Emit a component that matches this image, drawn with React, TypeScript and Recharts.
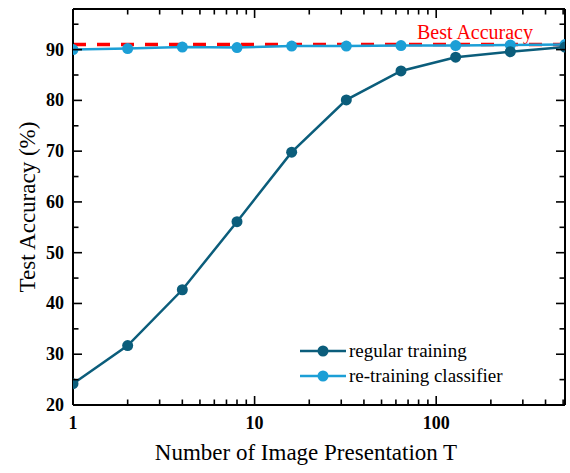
import { LineChart, Line, XAxis, YAxis, ReferenceLine } from "recharts";

const presentations = [1, 2, 4, 8, 16, 32, 64, 128, 256, 512];
const regularTraining = [24.2, 31.7, 42.7, 56.1, 69.8, 80.1, 85.8, 88.5, 89.6, 90.5];
const retrainingClassifier = [90.0, 90.2, 90.5, 90.4, 90.7, 90.7, 90.8, 90.8, 90.9, 91.0];
const bestAccuracy = 91.0;

const xMajorTicks = [1, 10, 100];
const xAllTicks = [1, 2, 3, 4, 5, 6, 7, 8, 9, 10, 20, 30, 40, 50, 60, 70, 80, 90, 100, 200, 300, 400, 500];
const yMajorTicks = [20, 30, 40, 50, 60, 70, 80, 90];
const yAllTicks = [20, 25, 30, 35, 40, 45, 50, 55, 60, 65, 70, 75, 80, 85, 90, 95];

const data = presentations.map((t, i) => ({
  t,
  regular: regularTraining[i],
  retrain: retrainingClassifier[i],
}));

const DARK = "#0b5d7b";
const LIGHT = "#1c9fd6";
const FONT = "'Liberation Serif', 'Times New Roman', serif";

function makeTick(side: "bottom" | "top" | "left" | "right") {
  return (props: any) => {
    const { x, y, payload } = props;
    const v = payload.value;
    const major = side === "bottom" || side === "top" ? xMajorTicks.includes(v) : yMajorTicks.includes(v);
    const len = major ? 9 : 5.5;
    if (side === "bottom") {
      return (
        <g>
          <line x1={x} y1={y} x2={x} y2={y - len} stroke="#000" strokeWidth={1.6} />
          {major && (
            <text x={x} y={y + 24} textAnchor="middle" fontFamily={FONT} fontWeight="bold" fontSize={18} fill="#000">
              {v}
            </text>
          )}
        </g>
      );
    }
    if (side === "top") {
      return <line x1={x} y1={y} x2={x} y2={y + len} stroke="#000" strokeWidth={1.6} />;
    }
    if (side === "left") {
      return (
        <g>
          <line x1={x} y1={y} x2={x + len} y2={y} stroke="#000" strokeWidth={1.6} />
          {major && (
            <text x={x - 9} y={y + 6} textAnchor="end" fontFamily={FONT} fontWeight="bold" fontSize={18} fill="#000">
              {v}
            </text>
          )}
        </g>
      );
    }
    return <line x1={x} y1={y} x2={x - len} y2={y} stroke="#000" strokeWidth={1.6} />;
  };
}

function LegendBox() {
  const items = [
    { label: "regular training", color: DARK },
    { label: "re-training classifier", color: LIGHT },
  ];
  return (
    <div style={{ position: "absolute", left: 300, top: 338, fontFamily: FONT, fontSize: 19 }}>
      {items.map((it) => (
        <div key={it.label} style={{ display: "flex", alignItems: "center", height: 25 }}>
          <svg width={46} height={14}>
            <line x1={0} y1={7} x2={46} y2={7} stroke={it.color} strokeWidth={2.5} />
            <circle cx={23} cy={7} r={5.5} fill={it.color} />
          </svg>
          <span style={{ marginLeft: 3 }}>{it.label}</span>
        </div>
      ))}
    </div>
  );
}

const BestLabel = (props: any) => {
  const { viewBox } = props;
  return (
    <text
      x={viewBox.x + viewBox.width - 32}
      y={viewBox.y - 6}
      textAnchor="end"
      fontFamily={FONT}
      fontSize={20}
      fill="#ff0000"
    >
      Best Accuracy
    </text>
  );
};

export default function App() {
  return (
    <div style={{ position: "absolute", left: 0, top: 0, width: 570, height: 473, background: "#fff" }}>
      <LineChart width={570} height={473} data={data} margin={{ top: 0, right: 0, bottom: 0, left: 0 }}>
        <XAxis
          dataKey="t"
          type="number"
          scale="log"
          domain={[1, 512]}
          ticks={xAllTicks}
          interval={0}
          xAxisId="b"
          height={68}
          tickSize={0}
          tickMargin={0}
          tickLine={false}
          tick={makeTick("bottom")}
          stroke="#000"
          strokeWidth={2}
          allowDataOverflow
        />
        <XAxis
          dataKey="t"
          type="number"
          scale="log"
          domain={[1, 512]}
          ticks={xAllTicks}
          interval={0}
          xAxisId="t"
          orientation="top"
          height={9}
          tickSize={0}
          tickMargin={0}
          tickLine={false}
          tick={makeTick("top")}
          stroke="#000"
          strokeWidth={2}
          allowDataOverflow
        />
        <YAxis
          yAxisId="l"
          type="number"
          domain={[20, 98]}
          ticks={yAllTicks}
          interval={0}
          width={73}
          tickSize={0}
          tickMargin={0}
          tickLine={false}
          tick={makeTick("left")}
          stroke="#000"
          strokeWidth={2}
          allowDataOverflow
        />
        <YAxis
          yAxisId="r"
          orientation="right"
          type="number"
          domain={[20, 98]}
          ticks={yAllTicks}
          interval={0}
          width={5}
          tickSize={0}
          tickMargin={0}
          tickLine={false}
          tick={makeTick("right")}
          stroke="#000"
          strokeWidth={2}
          allowDataOverflow
        />
        <ReferenceLine
          xAxisId="b"
          yAxisId="l"
          y={bestAccuracy}
          stroke="#ff0000"
          strokeWidth={3.5}
          strokeDasharray="13 11"
          label={<BestLabel />}
        />
        <Line
          xAxisId="b"
          yAxisId="l"
          dataKey="retrain"
          stroke={LIGHT}
          strokeWidth={2.5}
          dot={{ r: 5.5, fill: LIGHT, stroke: LIGHT, strokeWidth: 0 }}
          isAnimationActive={false}
        />
        <Line
          xAxisId="b"
          yAxisId="l"
          dataKey="regular"
          stroke={DARK}
          strokeWidth={2.5}
          dot={{ r: 5.5, fill: DARK, stroke: DARK, strokeWidth: 0 }}
          isAnimationActive={false}
        />
      </LineChart>
      <LegendBox />
      <div
        style={{
          position: "absolute",
          left: 0,
          width: 612,
          top: 440,
          textAlign: "center",
          fontFamily: FONT,
          fontSize: 23,
        }}
      >
        Number of Image Presentation T
      </div>
      <div
        style={{
          position: "absolute",
          left: 28,
          top: 207,
          transform: "translate(-50%, -50%) rotate(-90deg)",
          whiteSpace: "nowrap",
          fontFamily: FONT,
          fontSize: 23,
        }}
      >
        Test Accuracy (%)
      </div>
    </div>
  );
}
